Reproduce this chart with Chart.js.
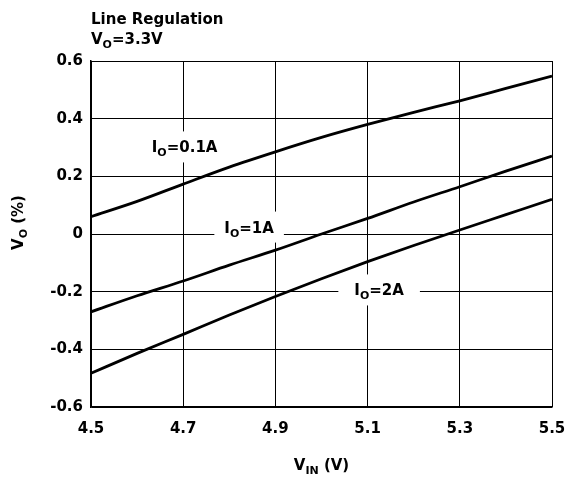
<!DOCTYPE html>
<html>
<head>
<meta charset="utf-8">
<script src="https://cdn.jsdelivr.net/npm/chart.js@4.4.1/dist/chart.umd.min.js"></script>
<style>
  html, body { margin: 0; padding: 0; background: #fff; }
  #wrap { width: 566px; height: 478px; }
</style>
</head>
<body>
<div id="wrap"><canvas id="chart" width="566" height="478"></canvas></div>
<script>
// values
const vin = [4.5, 4.6, 4.7, 4.8, 4.9, 5.0, 5.1, 5.2, 5.3, 5.4, 5.5];
const io01 = [0.06, 0.113, 0.173, 0.232, 0.285, 0.335, 0.38, 0.422, 0.462, 0.505, 0.548];
const io1 = [-0.27, -0.214, -0.163, -0.108, -0.056, 0.0, 0.054, 0.111, 0.164, 0.218, 0.27];
const io2 = [-0.483, -0.414, -0.348, -0.281, -0.217, -0.155, -0.096, -0.04, 0.014, 0.067, 0.12];
const xTicks = [4.5, 4.7, 4.9, 5.1, 5.3, 5.5];
const yTicks = [-0.6, -0.4, -0.2, 0, 0.2, 0.4, 0.6];

// curve labels, placed in data units
const curveLabels = [
  { x: 4.703, y: 0.302, sub: 'O', rest: '=0.1A', padX: 12 },
  { x: 4.843, y: 0.024, sub: 'O', rest: '=1A', padX: 10 },
  { x: 5.125, y: -0.194, sub: 'O', rest: '=2A', padX: 16 }
];

const FONT = '"DejaVu Sans", "Liberation Sans", sans-serif';
const big = 'bold 15px ' + FONT;
const small = 'bold 11px ' + FONT;

function toPts(ys) {
  return vin.map(function (v, i) { return { x: v, y: ys[i] }; });
}

// draws main + subscript + rest, starting at x, baseline y
function subText(ctx, x, y, main, sub, rest) {
  ctx.font = big;
  ctx.fillText(main, x, y);
  x += ctx.measureText(main).width;
  ctx.font = small;
  ctx.fillText(sub, x, y + 4);
  x += ctx.measureText(sub).width;
  ctx.font = big;
  ctx.fillText(rest, x, y);
}

function subWidth(ctx, main, sub, rest) {
  ctx.font = big;
  let w = ctx.measureText(main).width + ctx.measureText(rest).width;
  ctx.font = small;
  return w + ctx.measureText(sub).width;
}

const textPlugin = {
  id: 'texts',
  beforeDatasetsDraw: function (chart) {
    const ctx = chart.ctx;
    const xs = chart.scales.x, ys = chart.scales.y;
    ctx.save();
    ctx.textBaseline = 'alphabetic';
    ctx.textAlign = 'left';
    curveLabels.forEach(function (l) {
      const cx = xs.getPixelForValue(l.x);
      const cy = ys.getPixelForValue(l.y);
      const w = subWidth(ctx, 'I', l.sub, l.rest);
      ctx.fillStyle = '#fff';
      ctx.fillRect(cx - w / 2 - l.padX, cy - 15.5, w + 2 * l.padX, 31);
      ctx.fillStyle = '#000';
      subText(ctx, cx - w / 2, cy + 5.5, 'I', l.sub, l.rest);
    });
    ctx.restore();
  },
  afterDraw: function (chart) {
    const ctx = chart.ctx;
    const area = chart.chartArea;
    ctx.save();
    ctx.fillStyle = '#000';
    ctx.textAlign = 'left';
    ctx.textBaseline = 'alphabetic';
    // title block
    ctx.font = big;
    ctx.fillText('Line Regulation', area.left, 24);
    subText(ctx, area.left, 44, 'V', 'O', '=3.3V');
    // x axis title
    let w = subWidth(ctx, 'V', 'IN', ' (V)');
    subText(ctx, (area.left + area.right) / 2 - w / 2, 470, 'V', 'IN', ' (V)');
    // y axis title
    w = subWidth(ctx, 'V', 'O', ' (%)');
    ctx.translate(23, 222.5);
    ctx.rotate(-Math.PI / 2);
    subText(ctx, -w / 2, 0, 'V', 'O', ' (%)');
    ctx.restore();
  }
};

function fmt(v) {
  const r = Math.round(v * 10) / 10;
  return r === 0 ? '0' : r.toFixed(1);
}

const lineStyle = {
  borderColor: '#000',
  borderWidth: 2.8,
  pointRadius: 0,
  fill: false,
  cubicInterpolationMode: 'monotone'
};

new Chart(document.getElementById('chart'), {
  type: 'line',
  data: {
    datasets: [
      Object.assign({ label: 'IO=0.1A', data: toPts(io01) }, lineStyle),
      Object.assign({ label: 'IO=1A', data: toPts(io1) }, lineStyle),
      Object.assign({ label: 'IO=2A', data: toPts(io2) }, lineStyle)
    ]
  },
  options: {
    responsive: false,
    animation: false,
    layout: { padding: { left: 0, top: 61, right: 14, bottom: 0 } },
    plugins: {
      legend: { display: false },
      tooltip: { enabled: false }
    },
    scales: {
      x: {
        type: 'linear',
        min: 4.5,
        max: 5.5,
        afterBuildTicks: function (s) { s.ticks = xTicks.map(function (v) { return { value: v }; }); },
        afterFit: function (s) {
          s.height = 71;
          s.paddingLeft = 0;
          s.paddingRight = 0;
        },
        grid: { color: '#000', lineWidth: 1, drawTicks: false },
        border: { color: '#000', width: 1.5 },
        ticks: {
          color: '#000',
          font: { family: FONT, size: 15, weight: 'bold' },
          padding: 13,
          maxRotation: 0,
          callback: function (v) { return fmt(v); }
        }
      },
      y: {
        type: 'linear',
        min: -0.6,
        max: 0.6,
        afterBuildTicks: function (s) { s.ticks = yTicks.map(function (v) { return { value: v }; }); },
        afterFit: function (s) {
          s.width = 91;
          s.paddingTop = 0;
          s.paddingBottom = 0;
        },
        grid: { color: '#000', lineWidth: 1, drawTicks: false },
        border: { color: '#000', width: 1.5 },
        ticks: {
          color: '#000',
          font: { family: FONT, size: 15, weight: 'bold' },
          padding: 8,
          callback: function (v) { return fmt(v); }
        }
      }
    }
  },
  plugins: [textPlugin]
});
</script>
</body>
</html>
